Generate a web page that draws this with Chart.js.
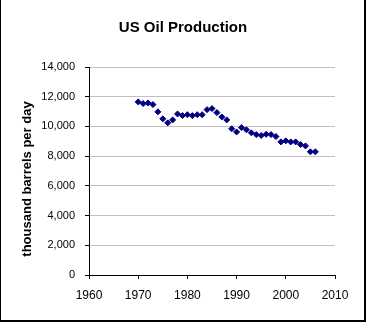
<!DOCTYPE html>
<html>
<head>
<meta charset="utf-8">
<script src="https://cdn.jsdelivr.net/npm/chart.js@4.4.0/dist/chart.umd.min.js"></script>
<style>
  html, body { margin: 0; padding: 0; background: #ffffff; }
  #wrap { width: 366px; height: 322px; position: relative; }
</style>
</head>
<body>
<div id="wrap"><canvas id="c" width="366" height="322"></canvas></div>
<script>
const chartTitle = "US Oil Production";
const yAxisTitle = "thousand barrels per day";
const years = [1970,1971,1972,1973,1974,1975,1976,1977,1978,1979,1980,1981,1982,1983,1984,1985,1986,1987,1988,1989,1990,1991,1992,1993,1994,1995,1996,1997,1998,1999,2000,2001,2002,2003,2004,2005,2006];
const production = [11650,11540,11580,11470,10980,10510,10240,10440,10840,10730,10790,10730,10790,10790,11130,11200,10930,10640,10440,9840,9630,9920,9770,9570,9450,9390,9470,9450,9320,8960,9030,8960,8960,8780,8690,8290,8290];
const xTicks = [1960,1970,1980,1990,2000,2010];
const yTicks = [0,2000,4000,6000,8000,10000,12000,14000];

const points = years.map((y, i) => ({ x: y, y: production[i] }));

const decor = {
  id: 'decor',
  beforeDraw(chart) {
    const ctx = chart.ctx;
    ctx.save();
    ctx.fillStyle = '#ffffff';
    ctx.fillRect(0, 0, chart.width, chart.height);
    ctx.restore();
  },
  afterDraw(chart) {
    const ctx = chart.ctx;
    ctx.save();
    ctx.fillStyle = '#000000';
    ctx.font = 'bold 15px "Liberation Sans", Arial, sans-serif';
    ctx.textAlign = 'center';
    ctx.textBaseline = 'alphabetic';
    ctx.fillText(chartTitle, 183, 32);
    ctx.translate(27.5, 179);
    ctx.rotate(-Math.PI / 2);
    ctx.font = 'bold 13px "Liberation Sans", Arial, sans-serif';
    ctx.textBaseline = 'middle';
    ctx.fillText(yAxisTitle, 0, 0);
    ctx.restore();
    ctx.save();
    ctx.fillStyle = '#000000';
    ctx.fillRect(0, 0, 1, 322);
    ctx.fillRect(364, 0, 2, 322);
    ctx.fillRect(0, 320, 366, 2);
    ctx.restore();
  }
};

new Chart(document.getElementById('c'), {
  type: 'scatter',
  data: {
    datasets: [{
      data: points,
      pointStyle: 'rectRot',
      pointRadius: 3,
      pointHoverRadius: 3,
      backgroundColor: '#000080',
      borderColor: '#000080',
      borderWidth: 1
    }]
  },
  options: {
    responsive: false,
    animation: false,
    events: [],
    layout: { padding: { top: 67, right: 31, left: 0, bottom: 0 } },
    plugins: {
      legend: { display: false },
      title: { display: false },
      tooltip: { enabled: false }
    },
    scales: {
      x: {
        type: 'linear',
        min: 1960,
        max: 2010,
        afterFit(scale) { scale.height = 47; },
        afterBuildTicks(scale) { scale.ticks = xTicks.map(v => ({ value: v })); },
        grid: { drawOnChartArea: false, drawTicks: true, tickLength: 4, tickColor: '#000000' },
        border: { display: true, color: '#000000', width: 1 },
        ticks: {
          padding: 9,
          color: '#000000',
          font: { family: '"Liberation Sans", Arial, sans-serif', size: 12 },
          maxRotation: 0,
          callback: v => String(v)
        }
      },
      y: {
        type: 'linear',
        min: 0,
        max: 14000,
        afterFit(scale) { scale.width = 89; },
        afterBuildTicks(scale) { scale.ticks = yTicks.map(v => ({ value: v })); },
        grid: { color: '#c0c0c0', drawTicks: true, tickLength: 4, tickColor: '#000000' },
        border: { display: true, color: '#000000', width: 1 },
        ticks: {
          padding: 10,
          color: '#000000',
          font: { family: '"Liberation Sans", Arial, sans-serif', size: 11 },
          callback: v => Number(v).toLocaleString('en-US')
        }
      }
    }
  },
  plugins: [decor]
});
</script>
</body>
</html>
